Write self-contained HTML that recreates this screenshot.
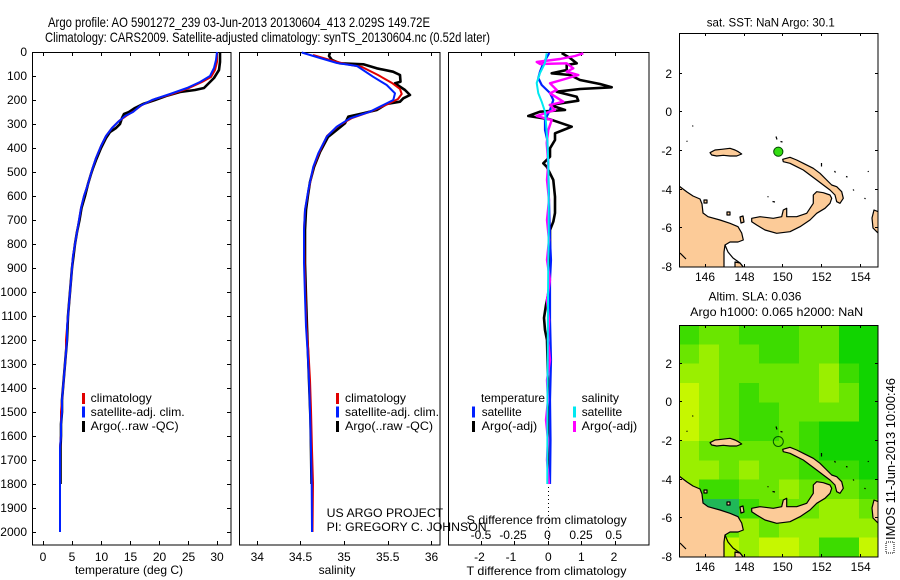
<!DOCTYPE html>
<html><head><meta charset="utf-8"><style>
html,body{margin:0;padding:0;background:#fff;}
svg{display:block;font-family:"Liberation Sans",Arial,Helvetica,sans-serif;}
</style></head><body>
<svg width="900" height="580" viewBox="0 0 900 580" xmlns="http://www.w3.org/2000/svg">
<defs>
<clipPath id="cTop"><rect x="679" y="33" width="199" height="234"/></clipPath>
<clipPath id="cBot"><rect x="679" y="325" width="199" height="232"/></clipPath>
<g id="land" stroke="#000" stroke-width="1.2" stroke-linejoin="round">
<path fill="#fccb98" d="M676,184 L679,186 L683,189 L687,192 L693,196 L700,199 L702,204 L703,213 L708,216.7 L720,220 L730,223.3 L738,226.7 L741.7,233 L743.3,240 L738,242 L730,242 L725,245 L724,252 L724,270 L676,270 Z"/>
<path fill="none" d="M725,245 L728,252 L733,258 L740,263 L744,268"/>
<path fill="#fccb98" d="M735,262 L740,263 L744,268 L735,268 Z"/>
<path fill="#fccb98" d="M751.7,218.3 L760,216.7 L773.3,218.3 L781.7,216.7 L783.3,210 L786.7,208.3 L786.7,216.7 L796.7,216.7 L806.7,213.3 L813.3,203.3 L813.3,195 L816.7,191.7 L823.3,192.7 L830,195 L831.7,198.3 L830,203.3 L825,208.3 L816.7,213.3 L810,220 L800,226.7 L790,231.7 L776.7,233.3 L765,230 L756.7,225 L751.7,221.7 Z"/>
<path fill="#fccb98" d="M782.7,159.3 L790,157.3 L796.7,160 L803.3,163.3 L813.3,168.3 L820,173.3 L826.7,180 L831.7,185 L836.7,186.7 L841.7,191.7 L843.3,198.3 L840,203.3 L836.7,201.7 L835,195 L830,190 L823.3,185 L816.7,180 L810,175 L803.3,170 L796.7,166.7 L790,163.3 L783.3,161.7 Z"/>
<path fill="#fccb98" d="M710,152.7 L715,150 L721.7,149.3 L730,148.3 L735,150 L738.3,151.7 L741.7,154 L736.7,156 L730,156 L723.3,155.3 L716.7,156 L711.7,155 Z"/>
<path fill="#fccb98" d="M879,212 L874,210 L872,218 L873,228 L879,234 Z"/>
<path fill="#fccb98" d="M704,200 L707,200 L707,203 L704,203 Z"/>
<path fill="#fccb98" d="M727,212 L730,212 L730,215 L727,215 Z"/>
<path fill="#fccb98" d="M740,217 L743,216 L744,222 L741,223 Z"/>
<path fill="none" d="M776,136.5 L777,139.5 M780.5,141.5 L782.5,142 M692.5,125.5 L693,126.5 M686.5,141.5 L687.5,141 M821.5,163 L821.5,166.5 M834.5,171 L835.5,172.5 M846,176.5 L847.5,177 M853,189.5 L854,190.5 M864.5,198 L865.5,199 M868,171 L868.5,172 M772.5,201.5 L775,202 M767.5,196.5 L768.5,197 M680,253 L686,259"/>
</g>
</defs>

<!-- Titles -->
<text x="48" y="27" font-size="14" textLength="382" lengthAdjust="spacingAndGlyphs">Argo profile: AO 5901272_239 03-Jun-2013 20130604_413 2.029S 149.72E</text>
<text x="45" y="42" font-size="14" textLength="445" lengthAdjust="spacingAndGlyphs">Climatology: CARS2009. Satellite-adjusted climatology: synTS_20130604.nc (0.52d later)</text>

<!-- Panel 1 -->
<rect x="32.5" y="52.5" width="198.5" height="492.5" fill="none" stroke="#000" stroke-width="1"/>
<g stroke="#000" stroke-width="1">
<path d="M32,52.5h4M32,76.5h4M32,100.5h4M32,124.5h4M32,148.5h4M32,172.5h4M32,196.5h4M32,220.5h4M32,244.5h4M32,268.5h4M32,292.5h4M32,316.5h4M32,340.5h4M32,364.5h4M32,388.5h4M32,412.5h4M32,436.5h4M32,460.5h4M32,484.5h4M32,508.5h4M32,532.5h4"/>
<path d="M227,52.5h4M227,76.5h4M227,100.5h4M227,124.5h4M227,148.5h4M227,172.5h4M227,196.5h4M227,220.5h4M227,244.5h4M227,268.5h4M227,292.5h4M227,316.5h4M227,340.5h4M227,364.5h4M227,388.5h4M227,412.5h4M227,436.5h4M227,460.5h4M227,484.5h4M227,508.5h4M227,532.5h4"/>
<path d="M43.5,52v4M72.5,52v4M101.5,52v4M130.5,52v4M159.5,52v4M188.5,52v4M217.5,52v4M43.5,541v4M72.5,541v4M101.5,541v4M130.5,541v4M159.5,541v4M188.5,541v4M217.5,541v4"/>
</g>
<g font-size="12" text-anchor="end">
<text x="27" y="56">0</text><text x="27" y="80">100</text><text x="27" y="104">200</text><text x="27" y="128">300</text><text x="27" y="152">400</text><text x="27" y="176">500</text><text x="27" y="200">600</text><text x="27" y="224">700</text><text x="27" y="248">800</text><text x="27" y="272">900</text><text x="27" y="296">1000</text><text x="27" y="320">1100</text><text x="27" y="344">1200</text><text x="27" y="368">1300</text><text x="27" y="392">1400</text><text x="27" y="416">1500</text><text x="27" y="440">1600</text><text x="27" y="464">1700</text><text x="27" y="488">1800</text><text x="27" y="512">1900</text><text x="27" y="536">2000</text>
</g>
<g font-size="12" text-anchor="middle">
<text x="43" y="561">0</text><text x="72" y="561">5</text><text x="101.5" y="561">10</text><text x="130.5" y="561">15</text><text x="159.5" y="561">20</text><text x="188.5" y="561">25</text><text x="217" y="561">30</text>
<text x="129" y="574">temperature (deg C)</text>
</g>
<g fill="none" stroke-linejoin="round">
<polyline stroke="#000" stroke-width="2.6" points="220,53 220,62 219,70 214,78 208,84 204,88 195,90 180,92 166,96 155,100 143,104 135,108 129,112 124,114 122,118 120,124 116,128 110,132 106,138 101,148 96,160 93,168 91,174 88,184 85,196 81.5,208 79.5,220 77,232 75,244 73.5,256 72,268 71,280 70,292 69,304 68,316 67.5,328 67,340 66,352 65,364 64,376 63,388 62,400 62,412 61,424 61,436 60.5,448 60.5,460 60.5,472 60.5,484"/>
<polyline stroke="#e00000" stroke-width="2" points="217,52 217,62 215,70 211,77 202,82 189,88 172,94 155,99 142,105 134,111 126,116 119,121 112,128 106,136 101,146 96,158 92,170 88,184 84,196 81,208 79,220 77,232 75,244 73,256 72,268 71,280 70,292 69,304 68,316 67,328 66,340 66,352 65,364 64,376 63,388 62,400 61,412 61,424 61,436 60,448 60,460 60,472 60,484 60,496 60,508 60,520 60,532"/>
<polyline stroke="#0020ff" stroke-width="2" points="217,52 216,60 214,68 210,76 200,82 187,88 170,94 152,100 140,106 133,112 125,116 118,122 112,128 106,136 101,146 96,158 92,170 88,184 84,196 81,208 79,220 77,232 75,244 73,256 72,268 71,280 70,292 69,304 68,316 67,328 67,340 66,352 65,364 64,376 63,388 62,400 62,412 61,424 61,436 60,448 60,460 60,472 60,484 60,496 60,508 60,520 60,532"/>
</g>
<rect x="82" y="393" width="3" height="11" fill="#e00000"/>
<rect x="82" y="406.5" width="3" height="11" fill="#0020ff"/>
<rect x="82" y="421" width="3" height="11" fill="#000"/>
<g font-size="12">
<text x="90.7" y="402" textLength="61" lengthAdjust="spacingAndGlyphs">climatology</text>
<text x="90.7" y="416" textLength="94" lengthAdjust="spacingAndGlyphs">satellite-adj. clim.</text>
<text x="90.7" y="430" textLength="88" lengthAdjust="spacingAndGlyphs">Argo(..raw -QC)</text>
</g>

<!-- Panel 2 -->
<rect x="239.5" y="52.5" width="200.5" height="492.5" fill="none" stroke="#000" stroke-width="1"/>
<g stroke="#000" stroke-width="1">
<path d="M257.5,52v4M300.5,52v4M344.5,52v4M388.5,52v4M431.5,52v4M257.5,541v4M300.5,541v4M344.5,541v4M388.5,541v4M431.5,541v4"/>
</g>
<g font-size="12" text-anchor="middle">
<text x="257.3" y="561">34</text><text x="300.5" y="561">34.5</text><text x="344" y="561">35</text><text x="387.7" y="561">35.5</text><text x="431.5" y="561">36</text>
<text x="337" y="574">salinity</text>
</g>
<g fill="none" stroke-linejoin="round">
<polyline stroke="#000" stroke-width="2.6" points="330,52.5 329,56 332,60 340,63.3 363.3,64.3 376.7,68.3 393,71.7 400,75 400.5,81.7 395,83.3 405,90 410,95 403.3,98.3 400,101.7 386.7,104 376.7,110 363.3,113.3 348.3,116.7 345,123.3 336.7,130 328,137 320,152 314,167 310,182 308,195 306,210 305,230 305,263 306,297 307,327 308,353 309,380 310.5,420 311,450 311.5,484"/>
<polyline stroke="#e00000" stroke-width="2" points="313,55 330,60 345,64 362,67 378,75 392,83 400,89 401.7,94 398,99 388,104 372,111 352,118 338,126 327,136 319,153 313.5,167 308.5,190 305,210 304,230 304.5,263 305.5,297 306.5,327 308.5,353 310,380 311,410 312,450 313,483 312.5,532"/>
<polyline stroke="#0020ff" stroke-width="2" points="301.7,52.5 320,58 337,63 357,66 373,76.7 386.7,85 395,93.3 393.3,100 383.3,105 370,111.7 350,118.3 336.7,126.7 326.7,136.7 318.3,153.3 313.3,166.7 308.3,190 305,210 304,230 304,263 305,296.7 306,326.7 307.7,353 309,380 310,410 311,450 311.7,483 312,532"/>
</g>
<rect x="336" y="393" width="3" height="11" fill="#e00000"/>
<rect x="336" y="406.5" width="3" height="11" fill="#0020ff"/>
<rect x="336" y="421" width="3" height="11" fill="#000"/>
<g font-size="12">
<text x="345" y="402" textLength="61" lengthAdjust="spacingAndGlyphs">climatology</text>
<text x="345" y="416" textLength="94" lengthAdjust="spacingAndGlyphs">satellite-adj. clim.</text>
<text x="345" y="430" textLength="88" lengthAdjust="spacingAndGlyphs">Argo(..raw -QC)</text>
<text x="326.7" y="517" textLength="116.5" lengthAdjust="spacingAndGlyphs">US ARGO PROJECT</text>
<text x="326.7" y="531" textLength="160" lengthAdjust="spacingAndGlyphs">PI: GREGORY C. JOHNSON</text>
</g>

<!-- Panel 3 -->
<rect x="448.5" y="52.5" width="200.5" height="492.5" fill="none" stroke="#000" stroke-width="1"/>
<g stroke="#000" stroke-width="1">
<path d="M481.5,52v4M514.5,52v4M548.5,52v4M581.5,52v4M615.5,52v4M481.5,541v4M514.5,541v4M548.5,541v4M581.5,541v4M615.5,541v4"/>
</g>
<path d="M548.5,487V545" stroke="#000" stroke-width="1" stroke-dasharray="1,3"/>
<g fill="none" stroke-linejoin="round">
<polyline stroke="#000" stroke-width="2.6" points="561.7,53 570,58 576.7,63.3 566.7,65 566.7,70 551.7,73.3 570,75 580,80 600,84 611.7,87.3 580,89 556.7,91.7 576.7,96.7 578.3,100.7 550,105 565,110 540,111.7 528.3,116 550,119.3 571.7,126.7 563.3,130 555,133.3 555,140 550,148.3 550,156.7 543.3,163.3 546.7,166.7 550,173.3 553.3,180 555,196.7 555,213 553.3,221.7 550,230 550,263 549,290 546,305 544,318 545,330 547,340 548,380 548,440 548,484"/>
<polyline stroke="#0020ff" stroke-width="2.2" points="549.3,53 543.3,63.3 540,71.7 538.3,78 541.7,85 550,93 553.3,100 550,110 545,120 545,130 547.3,140 548,160 549,200 550,240 551,260 550,280 550,320 551,360 550,400 550.5,440 550,484"/>
<polyline stroke="#ff00ff" stroke-width="2.4" points="583.3,53.3 575,56 560,59 536.7,62 540,64 566.7,63.3 573.3,68.3 566.7,71.7 578.3,75 565,79 550,83.3 556.7,90 550,93.3 563.3,101.7 550,105 555,110 536.7,116 551.7,120 548.3,130 546.7,143 548.3,163 547,180 549,200 547,220 549,240 547,260 550,280 547,300 549,320 548,340 550,360 547,380 548,400 546,420 548,440 547,460 549,484"/>
<polyline stroke="#00e8f0" stroke-width="2" points="546.7,53.3 545,63 540,73 536.7,83 538.3,93.3 541.7,101.7 545,111.7 546,123 547.3,140 548.3,163 548.7,196.7 548.7,230 548.3,263 548,300 547.5,400 547.3,484"/>
</g>
<rect x="472" y="406.5" width="3" height="11" fill="#0020ff"/>
<rect x="472" y="421" width="3" height="11" fill="#000"/>
<rect x="573" y="406.5" width="3" height="11" fill="#00e8f0"/>
<rect x="573" y="421" width="3" height="11" fill="#ff00ff"/>
<g font-size="12">
<text x="481" y="402" textLength="64" lengthAdjust="spacingAndGlyphs">temperature</text>
<text x="481.7" y="416" textLength="40" lengthAdjust="spacingAndGlyphs">satellite</text>
<text x="481.7" y="430" textLength="55.5" lengthAdjust="spacingAndGlyphs">Argo(-adj)</text>
<text x="581.7" y="402" textLength="37.3" lengthAdjust="spacingAndGlyphs">salinity</text>
<text x="581.7" y="416" textLength="40.5" lengthAdjust="spacingAndGlyphs">satellite</text>
<text x="581.7" y="430" textLength="55.5" lengthAdjust="spacingAndGlyphs">Argo(-adj)</text>
</g>
<g font-size="12" text-anchor="middle">
<text x="546.7" y="524" textLength="160" lengthAdjust="spacingAndGlyphs">S difference from climatology</text>
<text x="481" y="539">-0.5</text><text x="513" y="539">-0.25</text><text x="547.5" y="539">0</text><text x="581" y="539">0.25</text><text x="613.7" y="539">0.5</text>
<text x="479.5" y="561">-2</text><text x="511" y="561">-1</text><text x="548.3" y="561">0</text><text x="581.3" y="561">1</text><text x="614" y="561">2</text>
<text x="546.5" y="575" textLength="160" lengthAdjust="spacingAndGlyphs">T difference from climatology</text>
</g>

<!-- Top map -->
<text x="770.8" y="26.5" font-size="12" text-anchor="middle" textLength="128" lengthAdjust="spacingAndGlyphs">sat. SST: NaN Argo: 30.1</text>
<g clip-path="url(#cTop)">
<rect x="679" y="33" width="199" height="234" fill="#fff"/>
<use href="#land"/>
<circle cx="778.3" cy="151.7" r="4.6" fill="#33dd11" stroke="#004400" stroke-width="1"/>
</g>
<rect x="679.5" y="33.5" width="198.5" height="233.5" fill="none" stroke="#000" stroke-width="1"/>
<g stroke="#000" stroke-width="1">
<path d="M705.5,33v3M744.5,33v3M782.5,33v3M821.5,33v3M860.5,33v3M705.5,264v3M744.5,264v3M782.5,264v3M821.5,264v3M860.5,264v3"/>
<path d="M679,73.5h3M679,111.5h3M679,150.5h3M679,189.5h3M679,227.5h3M875,73.5h3M875,111.5h3M875,150.5h3M875,189.5h3M875,227.5h3"/>
</g>
<g font-size="12" text-anchor="end">
<text x="672" y="78">2</text><text x="672" y="116">0</text><text x="672" y="155">-2</text><text x="672" y="194">-4</text><text x="672" y="232">-6</text><text x="672" y="271">-8</text>
</g>
<g font-size="12" text-anchor="middle">
<text x="705" y="281">146</text><text x="744.5" y="281">148</text><text x="782.7" y="281">150</text><text x="821.7" y="281">152</text><text x="860.7" y="281">154</text>
</g>

<!-- Bottom map -->
<text x="755" y="300.7" font-size="12" text-anchor="middle" textLength="93" lengthAdjust="spacingAndGlyphs">Altim. SLA: 0.036</text>
<text x="776.7" y="316" font-size="12" text-anchor="middle" textLength="173" lengthAdjust="spacingAndGlyphs">Argo h1000: 0.065 h2000: NaN</text>
<g clip-path="url(#cBot)">
<g shape-rendering="crispEdges">
<!-- r0 -->
<rect x="679" y="325" width="20.5" height="19.8" fill="#3ddc00"/><rect x="699" y="325" width="20.5" height="19.8" fill="#6ae600"/><rect x="719" y="325" width="20.5" height="19.8" fill="#6ae600"/><rect x="739" y="325" width="20.5" height="19.8" fill="#3ddc00"/><rect x="759" y="325" width="20.5" height="19.8" fill="#3ddc00"/><rect x="779" y="325" width="20.5" height="19.8" fill="#3ddc00"/><rect x="799" y="325" width="20.5" height="19.8" fill="#6ae600"/><rect x="819" y="325" width="20.5" height="19.8" fill="#6ae600"/><rect x="839" y="325" width="20.5" height="19.8" fill="#11d400"/><rect x="859" y="325" width="20.5" height="19.8" fill="#11d400"/>
<!-- r1 -->
<rect x="679" y="344.33" width="20.5" height="19.8" fill="#6ae600"/><rect x="699" y="344.33" width="20.5" height="19.8" fill="#9aef00"/><rect x="719" y="344.33" width="20.5" height="19.8" fill="#6ae600"/><rect x="739" y="344.33" width="20.5" height="19.8" fill="#6ae600"/><rect x="759" y="344.33" width="20.5" height="19.8" fill="#3ddc00"/><rect x="779" y="344.33" width="20.5" height="19.8" fill="#3ddc00"/><rect x="799" y="344.33" width="20.5" height="19.8" fill="#6ae600"/><rect x="819" y="344.33" width="20.5" height="19.8" fill="#6ae600"/><rect x="839" y="344.33" width="20.5" height="19.8" fill="#11d400"/><rect x="859" y="344.33" width="20.5" height="19.8" fill="#11d400"/>
<!-- r2 -->
<rect x="679" y="363.67" width="20.5" height="19.8" fill="#9aef00"/><rect x="699" y="363.67" width="20.5" height="19.8" fill="#9aef00"/><rect x="719" y="363.67" width="20.5" height="19.8" fill="#6ae600"/><rect x="739" y="363.67" width="20.5" height="19.8" fill="#6ae600"/><rect x="759" y="363.67" width="20.5" height="19.8" fill="#6ae600"/><rect x="779" y="363.67" width="20.5" height="19.8" fill="#6ae600"/><rect x="799" y="363.67" width="20.5" height="19.8" fill="#6ae600"/><rect x="819" y="363.67" width="20.5" height="19.8" fill="#9aef00"/><rect x="839" y="363.67" width="20.5" height="19.8" fill="#3ddc00"/><rect x="859" y="363.67" width="20.5" height="19.8" fill="#11d400"/>
<!-- r3 -->
<rect x="679" y="383" width="20.5" height="19.8" fill="#c6f700"/><rect x="699" y="383" width="20.5" height="19.8" fill="#9aef00"/><rect x="719" y="383" width="20.5" height="19.8" fill="#6ae600"/><rect x="739" y="383" width="20.5" height="19.8" fill="#3ddc00"/><rect x="759" y="383" width="20.5" height="19.8" fill="#6ae600"/><rect x="779" y="383" width="20.5" height="19.8" fill="#6ae600"/><rect x="799" y="383" width="20.5" height="19.8" fill="#6ae600"/><rect x="819" y="383" width="20.5" height="19.8" fill="#9aef00"/><rect x="839" y="383" width="20.5" height="19.8" fill="#6ae600"/><rect x="859" y="383" width="20.5" height="19.8" fill="#11d400"/>
<!-- r4 -->
<rect x="679" y="402.33" width="20.5" height="19.8" fill="#c6f700"/><rect x="699" y="402.33" width="20.5" height="19.8" fill="#9aef00"/><rect x="719" y="402.33" width="20.5" height="19.8" fill="#6ae600"/><rect x="739" y="402.33" width="20.5" height="19.8" fill="#3ddc00"/><rect x="759" y="402.33" width="20.5" height="19.8" fill="#3ddc00"/><rect x="779" y="402.33" width="20.5" height="19.8" fill="#6ae600"/><rect x="799" y="402.33" width="20.5" height="19.8" fill="#6ae600"/><rect x="819" y="402.33" width="20.5" height="19.8" fill="#6ae600"/><rect x="839" y="402.33" width="20.5" height="19.8" fill="#6ae600"/><rect x="859" y="402.33" width="20.5" height="19.8" fill="#11d400"/>
<!-- r5 -->
<rect x="679" y="421.67" width="20.5" height="19.8" fill="#c6f700"/><rect x="699" y="421.67" width="20.5" height="19.8" fill="#9aef00"/><rect x="719" y="421.67" width="20.5" height="19.8" fill="#6ae600"/><rect x="739" y="421.67" width="20.5" height="19.8" fill="#3ddc00"/><rect x="759" y="421.67" width="20.5" height="19.8" fill="#3ddc00"/><rect x="779" y="421.67" width="20.5" height="19.8" fill="#6ae600"/><rect x="799" y="421.67" width="20.5" height="19.8" fill="#3ddc00"/><rect x="819" y="421.67" width="20.5" height="19.8" fill="#11d400"/><rect x="839" y="421.67" width="20.5" height="19.8" fill="#11d400"/><rect x="859" y="421.67" width="20.5" height="19.8" fill="#11d400"/>
<!-- r6 -->
<rect x="679" y="441" width="20.5" height="19.8" fill="#9aef00"/><rect x="699" y="441" width="20.5" height="19.8" fill="#6ae600"/><rect x="719" y="441" width="20.5" height="19.8" fill="#6ae600"/><rect x="739" y="441" width="20.5" height="19.8" fill="#6ae600"/><rect x="759" y="441" width="20.5" height="19.8" fill="#6ae600"/><rect x="779" y="441" width="20.5" height="19.8" fill="#6ae600"/><rect x="799" y="441" width="20.5" height="19.8" fill="#3ddc00"/><rect x="819" y="441" width="20.5" height="19.8" fill="#11d400"/><rect x="839" y="441" width="20.5" height="19.8" fill="#11d400"/><rect x="859" y="441" width="20.5" height="19.8" fill="#11d400"/>
<!-- r7 -->
<rect x="679" y="460.33" width="20.5" height="19.8" fill="#9aef00"/><rect x="699" y="460.33" width="20.5" height="19.8" fill="#9aef00"/><rect x="719" y="460.33" width="20.5" height="19.8" fill="#6ae600"/><rect x="739" y="460.33" width="20.5" height="19.8" fill="#9aef00"/><rect x="759" y="460.33" width="20.5" height="19.8" fill="#6ae600"/><rect x="779" y="460.33" width="20.5" height="19.8" fill="#6ae600"/><rect x="799" y="460.33" width="20.5" height="19.8" fill="#3ddc00"/><rect x="819" y="460.33" width="20.5" height="19.8" fill="#3ddc00"/><rect x="839" y="460.33" width="20.5" height="19.8" fill="#3ddc00"/><rect x="859" y="460.33" width="20.5" height="19.8" fill="#11d400"/>
<!-- r8 -->
<rect x="679" y="479.67" width="20.5" height="19.8" fill="#9aef00"/><rect x="699" y="479.67" width="20.5" height="19.8" fill="#3ddc00"/><rect x="719" y="479.67" width="20.5" height="19.8" fill="#3ddc00"/><rect x="739" y="479.67" width="20.5" height="19.8" fill="#6ae600"/><rect x="759" y="479.67" width="20.5" height="19.8" fill="#6ae600"/><rect x="779" y="479.67" width="20.5" height="19.8" fill="#9aef00"/><rect x="799" y="479.67" width="20.5" height="19.8" fill="#6ae600"/><rect x="819" y="479.67" width="20.5" height="19.8" fill="#6ae600"/><rect x="839" y="479.67" width="20.5" height="19.8" fill="#6ae600"/><rect x="859" y="479.67" width="20.5" height="19.8" fill="#3ddc00"/>
<!-- r9 -->
<rect x="679" y="499" width="20.5" height="19.8" fill="#9aef00"/><rect x="699" y="499" width="20.5" height="19.8" fill="#20b858"/><rect x="719" y="499" width="20.5" height="19.8" fill="#20b858"/><rect x="739" y="499" width="20.5" height="19.8" fill="#3ddc00"/><rect x="759" y="499" width="20.5" height="19.8" fill="#6ae600"/><rect x="779" y="499" width="20.5" height="19.8" fill="#6ae600"/><rect x="799" y="499" width="20.5" height="19.8" fill="#6ae600"/><rect x="819" y="499" width="20.5" height="19.8" fill="#9aef00"/><rect x="839" y="499" width="20.5" height="19.8" fill="#9aef00"/><rect x="859" y="499" width="20.5" height="19.8" fill="#6ae600"/>
<!-- r10 -->
<rect x="679" y="518.33" width="20.5" height="19.8" fill="#9aef00"/><rect x="699" y="518.33" width="20.5" height="19.8" fill="#6ae600"/><rect x="719" y="518.33" width="20.5" height="19.8" fill="#6ae600"/><rect x="739" y="518.33" width="20.5" height="19.8" fill="#9aef00"/><rect x="759" y="518.33" width="20.5" height="19.8" fill="#6ae600"/><rect x="779" y="518.33" width="20.5" height="19.8" fill="#9aef00"/><rect x="799" y="518.33" width="20.5" height="19.8" fill="#9aef00"/><rect x="819" y="518.33" width="20.5" height="19.8" fill="#9aef00"/><rect x="839" y="518.33" width="20.5" height="19.8" fill="#9aef00"/><rect x="859" y="518.33" width="20.5" height="19.8" fill="#9aef00"/>
<!-- r11 -->
<rect x="679" y="537.67" width="20.5" height="19.8" fill="#9aef00"/><rect x="699" y="537.67" width="20.5" height="19.8" fill="#9aef00"/><rect x="719" y="537.67" width="20.5" height="19.8" fill="#c6f700"/><rect x="739" y="537.67" width="20.5" height="19.8" fill="#9aef00"/><rect x="759" y="537.67" width="20.5" height="19.8" fill="#c6f700"/><rect x="779" y="537.67" width="20.5" height="19.8" fill="#c6f700"/><rect x="799" y="537.67" width="20.5" height="19.8" fill="#9aef00"/><rect x="819" y="537.67" width="20.5" height="19.8" fill="#3ddc00"/><rect x="839" y="537.67" width="20.5" height="19.8" fill="#3ddc00"/><rect x="859" y="537.67" width="20.5" height="19.8" fill="#c6f700"/>
</g>
<use href="#land" transform="translate(0,290)"/>
<circle cx="778.3" cy="441.5" r="5" fill="none" stroke="#005500" stroke-width="1"/>
</g>
<rect x="679.5" y="325.5" width="198.5" height="231.5" fill="none" stroke="#000" stroke-width="1"/>
<g stroke="#000" stroke-width="1">
<path d="M705.5,325v3M744.5,325v3M782.5,325v3M821.5,325v3M860.5,325v3M705.5,554v3M744.5,554v3M782.5,554v3M821.5,554v3M860.5,554v3"/>
<path d="M679,363.5h3M679,401.5h3M679,440.5h3M679,479.5h3M679,517.5h3M875,363.5h3M875,401.5h3M875,440.5h3M875,479.5h3M875,517.5h3"/>
</g>
<g font-size="12" text-anchor="end">
<text x="672" y="368">2</text><text x="672" y="406">0</text><text x="672" y="445">-2</text><text x="672" y="484">-4</text><text x="672" y="522">-6</text><text x="672" y="561">-8</text>
</g>
<g font-size="12" text-anchor="middle">
<text x="705" y="571">146</text><text x="744.5" y="571">148</text><text x="782.7" y="571">150</text><text x="821.7" y="571">152</text><text x="860.7" y="571">154</text>
</g>

<!-- rotated stamp -->
<rect x="886" y="542" width="8" height="11" fill="none" stroke="#000" stroke-width="1" stroke-dasharray="1,1"/>
<text transform="translate(895,540) rotate(-90)" font-size="13" textLength="162" lengthAdjust="spacingAndGlyphs">IMOS 11-Jun-2013 10:00:46</text>
</svg>
</body></html>
